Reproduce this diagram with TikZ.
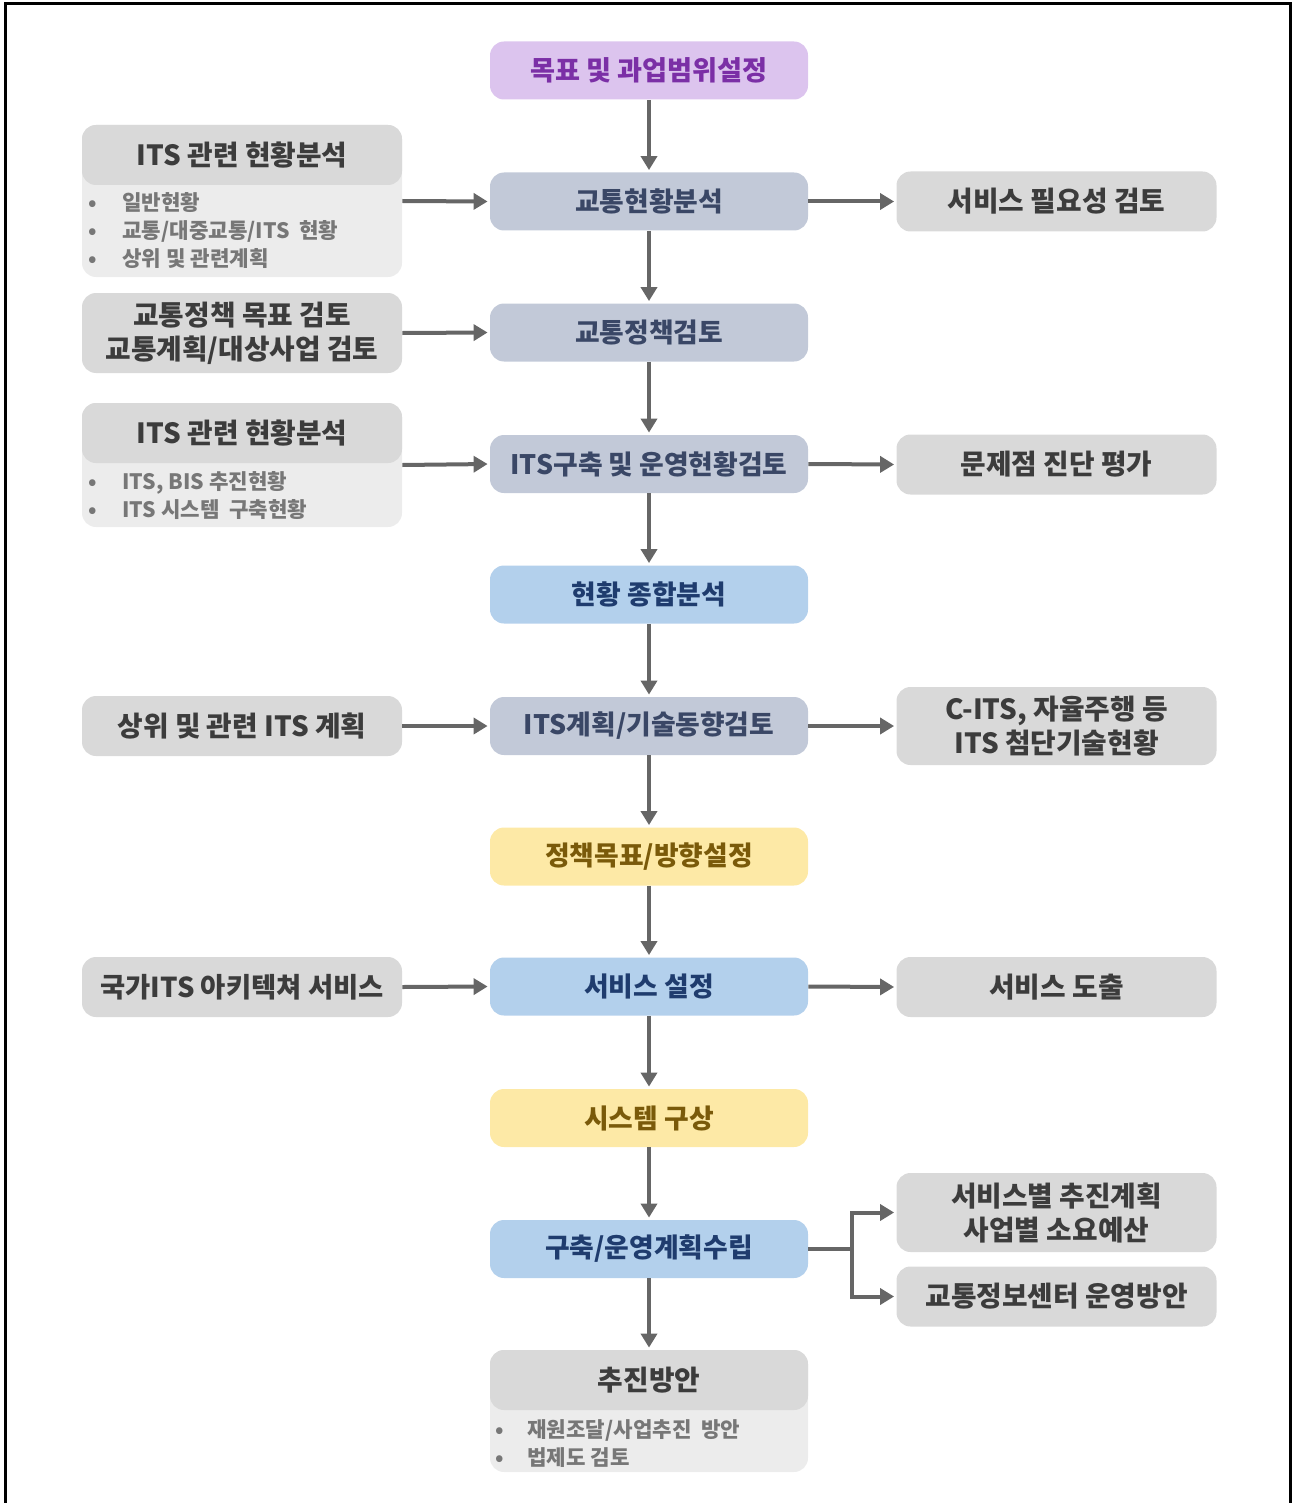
\documentclass[tikz,border=0pt]{standalone}
\usepackage{fontspec}
\setmainfont{Noto Sans CJK KR}
\usetikzlibrary{arrows.meta}
\definecolor{purpfill}{HTML}{DCC4EE}
\definecolor{purptext}{HTML}{7B2FA6}
\definecolor{gbfill}{HTML}{C2C9D8}
\definecolor{gbtext}{HTML}{3A4766}
\definecolor{lbfill}{HTML}{B3D0EC}
\definecolor{lbtext}{HTML}{1F3C6E}
\definecolor{ylfill}{HTML}{FDE9A6}
\definecolor{yltext}{HTML}{7A5A0A}
\definecolor{grfill}{HTML}{D9D9D9}
\definecolor{grtext}{HTML}{3C3C3C}
\definecolor{bodyfill}{HTML}{ECECEC}
\definecolor{bultext}{HTML}{777777}
\definecolor{arrcol}{HTML}{666666}
\begin{document}
\begin{tikzpicture}[x=0.5pt,y=-0.5pt,
  base/.style={rounded corners=7pt, inner sep=0pt, align=center},
  cbox/.style={base, minimum width=159pt, minimum height=29pt, font=\fontsize{13.4}{15}\selectfont\bfseries},
  sbox/.style={base, minimum width=160pt, minimum height=30pt, fill=grfill, text=grtext, font=\fontsize{13.9}{17}\selectfont\bfseries},
  purp/.style={cbox, fill=purpfill, text=purptext, font=\fontsize{13.6}{15}\selectfont\bfseries},
  gblue/.style={cbox, fill=gbfill, text=gbtext},
  lblue/.style={cbox, fill=lbfill, text=lbtext},
  yel/.style={cbox, fill=ylfill, text=yltext},
  bodybox/.style={base, fill=bodyfill, minimum width=160pt},
  bullets/.style={inner sep=0pt, align=left, text=bultext, font=\fontsize{10.6}{14}\selectfont\bfseries},
  arr/.style={draw=arrcol, line width=2pt, -{Triangle[width=8pt,length=7pt]}},
  conn/.style={draw=arrcol, line width=2pt},
]
\useasboundingbox (0,0) rectangle (1292,1503);
\draw[line width=1.5pt, black] (5,1503) -- (5,4) -- (1290,4) -- (1290,1503);

% centre column
\node[purp]  (c1)  at (649,70.5)  {목표 및 과업범위설정};
\node[gblue] (c2)  at (649,201.5) {교통현황분석};
\node[gblue] (c3)  at (649,332.5) {교통정책검토};
\node[gblue] (c4)  at (649,464)   {ITS구축 및 운영현황검토};
\node[lblue] (c5)  at (649,594.5) {현황 종합분석};
\node[gblue] (c6)  at (649,726)   {ITS계획/기술동향검토};
\node[yel]   (c7)  at (649,856.5) {정책목표/방향설정};
\node[lblue] (c8)  at (649,986.5) {서비스 설정};
\node[yel]   (c9)  at (649,1118)  {시스템 구상};
\node[lblue] (c10) at (649,1249)  {구축/운영계획수립};
\node[bodybox, minimum width=159pt, minimum height=61pt] (c11) at (649,1411) {};
\node[sbox, minimum width=159pt, anchor=north] (c11h) at (c11.north) {추진방안};
\node[bullets, anchor=west] (c11b) at (495,1443.5) {\makebox[16pt][l]{•}재원조달/사업추진\ \ 방안\\\makebox[16pt][l]{•}법제도 검토};

% left column
\node[bodybox, minimum height=76pt] (L1) at (242,201) {};
\node[sbox, anchor=north] (L1h) at (L1.north) {ITS 관련 현황분석};
\node[bullets, anchor=west] (L1b) at (88,231) {\makebox[17pt][l]{•}일반현황\\\makebox[17pt][l]{•}교통/대중교통/ITS\ \ 현황\\\makebox[17pt][l]{•}상위 및 관련계획};
\node[sbox, minimum height=40pt] (L2) at (242,333) {교통정책 목표 검토\\교통계획/대상사업 검토};
\node[bodybox, minimum height=62pt] (L3) at (242,465) {};
\node[sbox, anchor=north] (L3h) at (L3.north) {ITS 관련 현황분석};
\node[bullets, anchor=west] (L3b) at (88,495.5) {\makebox[17pt][l]{•}ITS, BIS 추진현황\\\makebox[17pt][l]{•}ITS 시스템\ \ 구축현황};
\node[sbox] (L4) at (242,726) {상위 및 관련 ITS 계획};
\node[sbox, font=\fontsize{13.7}{17}\selectfont\bfseries] (L5) at (242,987) {국가ITS 아키텍쳐 서비스};

% right column
\node[sbox] (R1) at (1056.5,201.5) {서비스 필요성 검토};
\node[sbox] (R2) at (1056.5,464.5) {문제점 진단 평가};
\node[sbox, minimum height=39pt] (R3) at (1056.5,726) {C-ITS, 자율주행 등\\ITS 첨단기술현황};
\node[sbox] (R4) at (1056.5,987) {서비스 도출};
\node[sbox, minimum height=39.5pt] (R5) at (1056.5,1212.5) {서비스별 추진계획\\사업별 소요예산};
\node[sbox] (R6) at (1056.5,1296.5) {교통정보센터 운영방안};

% vertical arrows
\foreach \a/\b in {c1/c2,c2/c3,c3/c4,c4/c5,c5/c6,c6/c7,c7/c8,c8/c9,c9/c10,c10/c11h}
  \draw[arr, shorten >=1pt] (\a.south) -- (\b.north);

% left to centre
\draw[arr, shorten >=1pt] (L1.east) -- (c2.west);
\draw[arr, shorten >=1pt] (L2.east) -- (c3.west);
\draw[arr, shorten >=1pt] (L3.east) -- (c4.west);
\draw[arr, shorten >=1pt] (L4.east) -- (c6.west);
\draw[arr, shorten >=1pt] (L5.east) -- (c8.west);

% centre to right
\draw[arr, shorten >=1pt] (c2.east) -- (R1.west);
\draw[arr, shorten >=1pt] (c4.east) -- (R2.west);
\draw[arr, shorten >=1pt] (c6.east) -- (R3.west);
\draw[arr, shorten >=1pt] (c8.east) -- (R4.west);

% fork
\coordinate (fk) at (852,1249);
\draw[conn] (c10.east) -- (fk);
\draw[arr, shorten >=1pt] (fk) |- (R5.west);
\draw[arr, shorten >=1pt] (fk) |- (R6.west);
\end{tikzpicture}
\end{document}
